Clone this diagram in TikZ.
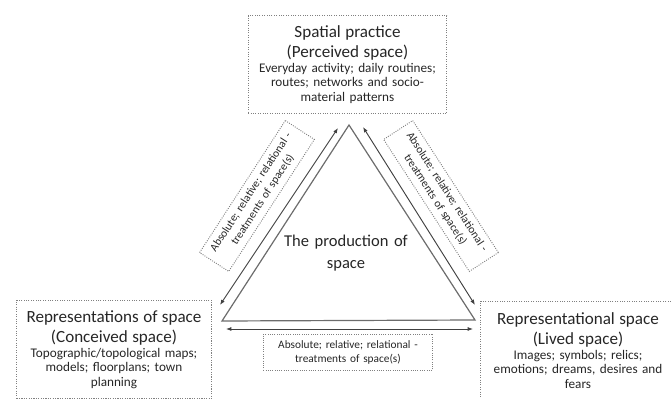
\documentclass[tikz,border=0pt]{standalone}
\usepackage{fontspec}
\setmainfont{Carlito}
\usetikzlibrary{arrows.meta}

\newcommand{\spctitle}[1]{{\fontsize{12.8}{15.5}\selectfont #1\par}}
\newcommand{\spcbody}[1]{{\fontsize{9.9}{10.9}\selectfont #1\par}}

\begin{document}
\begin{tikzpicture}[x=0.75pt,y=-0.75pt,
  spacebox/.style={draw=gray,densely dotted,line width=0.8pt,align=center,text width=142pt,inner sep=2pt,text=black!85,minimum width=146pt,minimum height=74pt},
  treatbox/.style={draw=gray,densely dotted,line width=0.7pt,align=center,text width=112pt,inner sep=3pt,text=black!85,font=\fontsize{8.5}{10.5}\selectfont,minimum width=118pt,minimum height=26pt},
  side/.style={draw=gray!85!black,line width=0.9pt},
  link/.style={draw=black!75,line width=0.7pt,{Latex[length=4pt,width=3pt]}-{Latex[length=4pt,width=3pt]}}]
\useasboundingbox (0,0) rectangle (671,399);

% the three spaces
\node[spacebox,minimum width=149pt,minimum height=73pt] (perceived) at (347.5,64.5)
  {\spctitle{Spatial practice\\(Perceived space)}
   \spcbody{Everyday activity; daily routines;\\routes; networks and socio-\\material patterns}};
\node[spacebox] (conceived) at (114,349.5)
  {\spctitle{Representations of space\\(Conceived space)}
   \spcbody{Topographic/topological maps;\\models; floorplans; town\\planning}};
\node[spacebox] (lived) at (578,350.5)
  {\spctitle{Representational space\\(Lived space)}
   \spcbody{Images; symbols; relics;\\emotions; dreams, desires and\\fears}};

% triangle
\coordinate (top) at (349,125);
\coordinate (left) at (222,321);
\coordinate (right) at (475,320);
\draw[side] (top) -- (left) -- (right) -- cycle;
\node[align=center,text width=110pt,text=black!85,font=\fontsize{12.4}{17}\selectfont] (production) at (346,253) {The production of\\space};

% arrows along the sides
\coordinate (a1) at (220,305);
\coordinate (a2) at (338,128);
\coordinate (b1) at (363,127);
\coordinate (b2) at (475,305);
\coordinate (c1) at (226,329);
\coordinate (c2) at (473,329);
\draw[link] (a1) -- (a2);
\draw[link] (b1) -- (b2);
\draw[link] (c1) -- (c2);

% treatments of space
\node[treatbox,rotate=57] (treatleft) at (257,196)
  {Absolute; relative; relational -\\treatments of space(s)};
\node[treatbox,rotate=-57] (treatright) at (441,196)
  {Absolute; relative; relational -\\treatments of space(s)};
\node[treatbox,minimum width=127pt,minimum height=27pt] (treatbottom) at (348,352)
  {Absolute; relative; relational -\\treatments of space(s)};
\end{tikzpicture}
\end{document}
